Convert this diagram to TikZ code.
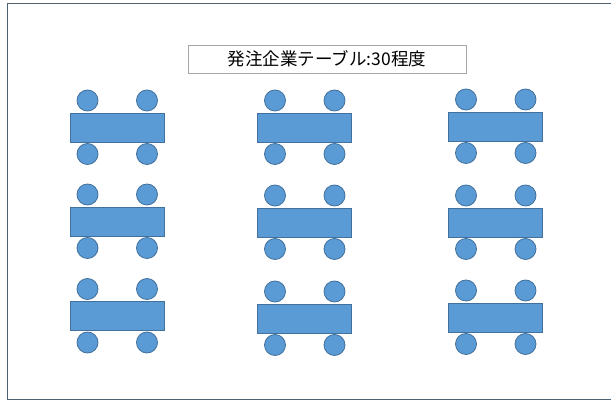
\documentclass[tikz,border=0pt]{standalone}
\usepackage{fontspec}
\newfontfamily\cjk{Noto Sans CJK JP}
\definecolor{tblfill}{HTML}{5B9BD5}
\definecolor{tbldraw}{HTML}{41719C}
\definecolor{framecol}{HTML}{4F6272}
\definecolor{titledraw}{HTML}{A6A6A6}
\begin{document}
\begin{tikzpicture}[x=1pt,y=-1pt,
  tablebox/.style={draw=tbldraw,fill=tblfill,line width=0.8pt,rectangle,minimum width=94pt,minimum height=29pt,inner sep=0pt},
  chair/.style={draw=tbldraw,fill=tblfill,line width=0.8pt,circle,minimum size=21pt,inner sep=0pt},
  titlebox/.style={draw=titledraw,line width=0.8pt,rectangle,minimum width=278pt,minimum height=28pt,inner sep=0pt,font=\cjk\fontsize{17.5}{19}\selectfont}]
\useasboundingbox (0,0) rectangle (611,403);
% frame
\draw[framecol,line width=1.3pt] (614,3.5) -- (7.5,3.5) -- (7.5,399.5) -- (614,399.5);
% title
\node[titlebox] (title) at (327,59) {発注企業テーブル:30程度};
% tables and chairs
\foreach \n/\cx/\cy in {t11/117/127.5, t12/304.5/127.5, t13/495.5/126.5,
                        t21/117/221.5, t22/304.5/222.5, t23/495.5/222.5,
                        t31/117/316, t32/304.5/318.5, t33/495.5/317.5}{
  \node[chair] (\n-tl) at (\cx-29.5,\cy-27) {};
  \node[chair] (\n-tr) at (\cx+30,\cy-27) {};
  \node[chair] (\n-bl) at (\cx-29.5,\cy+26.5) {};
  \node[chair] (\n-br) at (\cx+30,\cy+26.5) {};
  \node[tablebox] (\n) at (\cx,\cy) {};
}
\end{tikzpicture}
\end{document}
